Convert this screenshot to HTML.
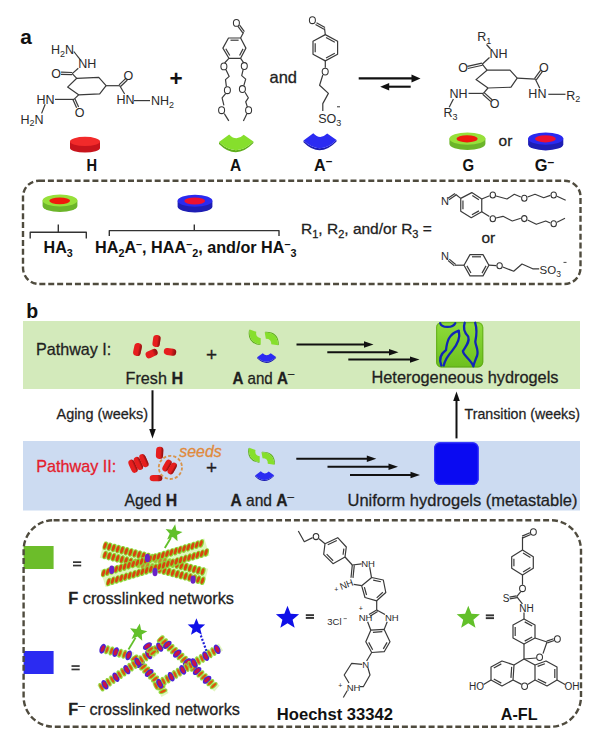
<!DOCTYPE html>
<html><head><meta charset="utf-8"><style>
html,body{margin:0;padding:0;background:#fff;}
svg{display:block;}
text{font-family:"Liberation Sans",sans-serif;}
</style></head><body>
<svg width="600" height="731" viewBox="0 0 600 731">
<text x="20.3" y="44.2" font-size="21" font-weight="bold" textLength="11.6" lengthAdjust="spacingAndGlyphs" fill="#111" >a</text>
<path d="M76.75 78.3 L98.75 77.4 L106.1 85.7 L99.7 93.9 L78.6 94.8 L67.6 87.1 Z" fill="none" stroke="#3a3a3a" stroke-width="1.2" stroke-linejoin="round"/>
<line x1="76.75" y1="78.3" x2="72.2" y2="73.6" stroke="#3a3a3a" stroke-width="1.2" />
<line x1="60.96" y1="74.3" x2="72.16" y2="74.7" stroke="#3a3a3a" stroke-width="1.2" />
<line x1="61.04" y1="72.1" x2="72.24" y2="72.5" stroke="#3a3a3a" stroke-width="1.2" />
<line x1="72.2" y1="73.6" x2="78.3" y2="68.3" stroke="#3a3a3a" stroke-width="1.2" />
<text x="87.3" y="68.08" font-size="12.5" text-anchor="middle" fill="#2a2a2a" >NH</text>
<line x1="73.8" y1="51.5" x2="80.2" y2="59.6" stroke="#3a3a3a" stroke-width="1.2" />
<text x="51" y="54" font-size="12.5" fill="#2a2a2a" >H<tspan font-size="9" dy="2.5">2</tspan><tspan dy="-2.5">N</tspan></text>
<text x="56" y="77.77" font-size="12.5" text-anchor="middle" fill="#2a2a2a" >O</text>
<line x1="106.1" y1="85.7" x2="119.8" y2="85.7" stroke="#3a3a3a" stroke-width="1.2" />
<line x1="120.56" y1="86.5" x2="127.36" y2="80" stroke="#3a3a3a" stroke-width="1.2" />
<line x1="119.04" y1="84.9" x2="125.84" y2="78.4" stroke="#3a3a3a" stroke-width="1.2" />
<text x="128.4" y="80.07" font-size="12.5" text-anchor="middle" fill="#2a2a2a" >O</text>
<line x1="119.8" y1="85.7" x2="124.6" y2="94" stroke="#3a3a3a" stroke-width="1.2" />
<text x="125.6" y="103.88" font-size="12.5" text-anchor="middle" fill="#2a2a2a" >HN</text>
<line x1="134" y1="100.6" x2="150" y2="100.6" stroke="#3a3a3a" stroke-width="1.2" />
<text x="151" y="105.3" font-size="12.5" fill="#2a2a2a" >NH<tspan font-size="9" dy="2.5">2</tspan></text>
<line x1="78.6" y1="94.8" x2="74" y2="99.4" stroke="#3a3a3a" stroke-width="1.2" />
<line x1="73" y1="99.85" x2="76.6" y2="107.85" stroke="#3a3a3a" stroke-width="1.2" />
<line x1="75" y1="98.95" x2="78.6" y2="106.95" stroke="#3a3a3a" stroke-width="1.2" />
<text x="79.5" y="116.77" font-size="12.5" text-anchor="middle" fill="#2a2a2a" >O</text>
<line x1="74" y1="99.4" x2="55" y2="99.4" stroke="#3a3a3a" stroke-width="1.2" />
<text x="45.6" y="103.88" font-size="12.5" text-anchor="middle" fill="#2a2a2a" >HN</text>
<line x1="45.2" y1="104.2" x2="41.6" y2="113.4" stroke="#3a3a3a" stroke-width="1.2" />
<text x="20.5" y="123.5" font-size="12.5" fill="#2a2a2a" >H<tspan font-size="9" dy="2.5">2</tspan><tspan dy="-2.5">N</tspan></text>
<text x="176" y="86" font-size="22.5" font-weight="bold" text-anchor="middle" fill="#111" >+</text>
<text x="269.5" y="83" font-size="16.5" textLength="27.5" lengthAdjust="spacingAndGlyphs" fill="#222" stroke="#222" stroke-width="0.28">and</text>
<path d="M70 141.4 L70 148 A15 4.6 0 0 0 100 148 L100 141.4 Z" fill="#c8141c"/>
<ellipse cx="85" cy="141.4" rx="15" ry="4.6" fill="#f22a2a"/>
<text x="91.8" y="171.2" font-size="16.5" font-weight="bold" text-anchor="middle" textLength="10.6" lengthAdjust="spacingAndGlyphs" fill="#111" >H</text>
<g transform="translate(236.2 141.5) rotate(0) scale(1.0)"><path d="M-17.2 0.6 Q0 17 17.2 0 L17.2 1.6 Q0 19.5 -17.2 2.4 Z" fill="#5fae1c"/><path d="M-17.2 0.6 L-7 -7 Q0 0.6 7.5 -6.8 L17.2 0 Q0 17 -17.2 0.6 Z" fill="#86df2c"/></g>
<text x="235.6" y="170.9" font-size="16.5" font-weight="bold" text-anchor="middle" textLength="11.2" lengthAdjust="spacingAndGlyphs" fill="#111" >A</text>
<g transform="translate(320.0 140.0) rotate(0) scale(0.96)"><path d="M-17.2 0.6 Q0 17 17.2 0 L17.2 1.6 Q0 19.5 -17.2 2.4 Z" fill="#1c1cb0"/><path d="M-17.2 0.6 L-7 -7 Q0 0.6 7.5 -6.8 L17.2 0 Q0 17 -17.2 0.6 Z" fill="#2b2bf2"/></g>
<text x="314" y="170.9" font-size="16.5" font-weight="bold" textLength="18.2" lengthAdjust="spacingAndGlyphs" fill="#111" >A<tspan font-size="12" dy="-5.5">–</tspan></text>
<line x1="358.7" y1="78.4" x2="413.5" y2="78.4" stroke="#111" stroke-width="2.1" />
<path d="M420.5 78.4 L411.5 74.4 L411.5 82.4 Z" fill="#111"/>
<line x1="388" y1="86.7" x2="410.7" y2="86.7" stroke="#111" stroke-width="2.1" />
<path d="M380.2 86.7 L389.2 82.9 L389.2 90.5 Z" fill="#111"/>
<path d="M487 70.2 L510 70.2 L517.2 78.2 L511 87.2 L488 88 L476 79.6 Z" fill="none" stroke="#3a3a3a" stroke-width="1.2" stroke-linejoin="round"/>
<line x1="487" y1="70.2" x2="482.2" y2="64.2" stroke="#3a3a3a" stroke-width="1.2" />
<line x1="467.84" y1="68.47" x2="482.44" y2="65.27" stroke="#3a3a3a" stroke-width="1.2" />
<line x1="467.36" y1="66.33" x2="481.96" y2="63.13" stroke="#3a3a3a" stroke-width="1.2" />
<text x="463" y="72.27" font-size="12.5" text-anchor="middle" fill="#2a2a2a" >O</text>
<line x1="482.2" y1="64.2" x2="489.5" y2="57.5" stroke="#3a3a3a" stroke-width="1.2" />
<text x="498.5" y="57.98" font-size="12.5" text-anchor="middle" fill="#2a2a2a" >NH</text>
<line x1="486.5" y1="44.5" x2="490.5" y2="49" stroke="#3a3a3a" stroke-width="1.2" />
<text x="477.2" y="41.3" font-size="12.5" fill="#2a2a2a" >R<tspan font-size="9" dy="2.5">1</tspan></text>
<line x1="517.2" y1="78.2" x2="535.4" y2="79.2" stroke="#3a3a3a" stroke-width="1.2" />
<line x1="536.29" y1="79.85" x2="542.29" y2="71.65" stroke="#3a3a3a" stroke-width="1.2" />
<line x1="534.51" y1="78.55" x2="540.51" y2="70.35" stroke="#3a3a3a" stroke-width="1.2" />
<text x="543.8" y="71.67" font-size="12.5" text-anchor="middle" fill="#2a2a2a" >O</text>
<line x1="535.4" y1="79.2" x2="539.8" y2="88.2" stroke="#3a3a3a" stroke-width="1.2" />
<text x="537.4" y="98.07" font-size="12.5" text-anchor="middle" fill="#2a2a2a" >HN</text>
<line x1="548.3" y1="94.3" x2="565.5" y2="94.3" stroke="#3a3a3a" stroke-width="1.2" />
<text x="566.2" y="99.6" font-size="12.5" fill="#2a2a2a" >R<tspan font-size="9" dy="2.5">2</tspan></text>
<line x1="488" y1="88" x2="483.4" y2="93.4" stroke="#3a3a3a" stroke-width="1.2" />
<line x1="482.66" y1="94.22" x2="490.86" y2="101.62" stroke="#3a3a3a" stroke-width="1.2" />
<line x1="484.14" y1="92.58" x2="492.34" y2="99.98" stroke="#3a3a3a" stroke-width="1.2" />
<text x="494.6" y="108.27" font-size="12.5" text-anchor="middle" fill="#2a2a2a" >O</text>
<line x1="483.4" y1="93.4" x2="468.5" y2="93.4" stroke="#3a3a3a" stroke-width="1.2" />
<text x="458.6" y="98.07" font-size="12.5" text-anchor="middle" fill="#2a2a2a" >NH</text>
<line x1="453.4" y1="99" x2="449.2" y2="107.2" stroke="#3a3a3a" stroke-width="1.2" />
<text x="443.5" y="117.2" font-size="12.5" fill="#2a2a2a" >R<tspan font-size="9" dy="2.5">3</tspan></text>
<path d="M449.4 138.6 L449.4 143.8 A18 6.2 0 0 0 485.4 143.8 L485.4 138.6 Z" fill="#6cb52a"/>
<ellipse cx="467.4" cy="138.6" rx="18" ry="6.2" fill="#97e03a"/>
<ellipse cx="467.1" cy="138.8" rx="10.6" ry="3.6" fill="#f01a0c"/>
<text x="505.5" y="145.6" font-size="15.5" text-anchor="middle" fill="#222" stroke="#222" stroke-width="0.28">or</text>
<path d="M528.1 138.6 L528.1 144.2 A17.6 6.2 0 0 0 563.3 144.2 L563.3 138.6 Z" fill="#1e1eb4"/>
<ellipse cx="545.7" cy="138.6" rx="17.6" ry="6.2" fill="#2a2af0"/>
<ellipse cx="545.4" cy="138.8" rx="10.4" ry="3.6" fill="#ee1030"/>
<text x="468.3" y="171.4" font-size="16.5" font-weight="bold" text-anchor="middle" textLength="11.6" lengthAdjust="spacingAndGlyphs" fill="#111" >G</text>
<text x="534.8" y="171.4" font-size="16.5" font-weight="bold" textLength="19.4" lengthAdjust="spacingAndGlyphs" fill="#111" >G<tspan font-size="12" dy="-5.5">–</tspan></text>
<path d="M228.5 38 L240.6 38 L245.9 48.1 L240.6 58.3 L228.9 58.3 L222.9 48.1 Z" fill="none" stroke="#3a3a3a" stroke-width="1.2" stroke-linejoin="round"/>
<line x1="230.5" y1="40.2" x2="238.6" y2="40.2" stroke="#3a3a3a" stroke-width="1.2" />
<line x1="243.03" y1="48.86" x2="239.57" y2="55.51" stroke="#3a3a3a" stroke-width="1.2" />
<line x1="229.78" y1="55.46" x2="225.81" y2="48.71" stroke="#3a3a3a" stroke-width="1.2" />
<line x1="240.6" y1="38" x2="243.6" y2="32.3" stroke="#3a3a3a" stroke-width="1.2" />
<line x1="242.8" y1="32.89" x2="238" y2="26.39" stroke="#3a3a3a" stroke-width="1.2" />
<line x1="244.4" y1="31.71" x2="239.6" y2="25.21" stroke="#3a3a3a" stroke-width="1.2" />
<ellipse cx="236.4" cy="22.9" rx="3" ry="3.4" fill="none" stroke="#333" stroke-width="1.05"/>
<line x1="228.9" y1="58.3" x2="224.6" y2="63" stroke="#3a3a3a" stroke-width="1.2" />
<ellipse cx="223.9" cy="66.4" rx="3" ry="3.4" fill="none" stroke="#333" stroke-width="1.05"/>
<path d="M226 69.8 L229.2 76.4 L225.5 79.6 L226.4 86.7" fill="none" stroke="#3a3a3a" stroke-width="1.2" stroke-linejoin="round"/>
<ellipse cx="227.4" cy="90.2" rx="3" ry="3.4" fill="none" stroke="#333" stroke-width="1.05"/>
<path d="M225.6 93.6 L222.1 97.8 L223.9 105.3" fill="none" stroke="#3a3a3a" stroke-width="1.2" stroke-linejoin="round"/>
<ellipse cx="221.6" cy="110.2" rx="3" ry="3.4" fill="none" stroke="#333" stroke-width="1.05"/>
<line x1="224.3" y1="113.6" x2="228.8" y2="120.9" stroke="#3a3a3a" stroke-width="1.2" />
<line x1="240.6" y1="58.3" x2="243.6" y2="62.6" stroke="#3a3a3a" stroke-width="1.2" />
<ellipse cx="244.3" cy="66" rx="3" ry="3.4" fill="none" stroke="#333" stroke-width="1.05"/>
<path d="M243.2 69.4 L241.7 75.6 L245.7 79.1 L243.9 85.3" fill="none" stroke="#3a3a3a" stroke-width="1.2" stroke-linejoin="round"/>
<ellipse cx="242.4" cy="89" rx="3" ry="3.4" fill="none" stroke="#333" stroke-width="1.05"/>
<path d="M245 92.3 L248.3 97.8 L245.7 101.8 L247.4 107.1" fill="none" stroke="#3a3a3a" stroke-width="1.2" stroke-linejoin="round"/>
<ellipse cx="248.6" cy="110.2" rx="3" ry="3.4" fill="none" stroke="#333" stroke-width="1.05"/>
<line x1="247" y1="113.6" x2="243.4" y2="120.9" stroke="#3a3a3a" stroke-width="1.2" />
<path d="M325.3 34.6 L337.6 41.2 L337.6 54.3 L325.3 60.9 L313 54.3 L313 41.2 Z" fill="none" stroke="#3a3a3a" stroke-width="1.2" stroke-linejoin="round"/>
<line x1="326.02" y1="37.48" x2="334.8" y2="42.19" stroke="#3a3a3a" stroke-width="1.2" />
<line x1="334.8" y1="53.31" x2="326.02" y2="58.02" stroke="#3a3a3a" stroke-width="1.2" />
<line x1="315.2" y1="52.3" x2="315.2" y2="43.2" stroke="#3a3a3a" stroke-width="1.2" />
<line x1="325.3" y1="34.6" x2="324.5" y2="28.4" stroke="#3a3a3a" stroke-width="1.2" />
<line x1="324.99" y1="27.53" x2="316.49" y2="22.73" stroke="#3a3a3a" stroke-width="1.2" />
<line x1="324.01" y1="29.27" x2="315.51" y2="24.47" stroke="#3a3a3a" stroke-width="1.2" />
<ellipse cx="312.4" cy="20.2" rx="3" ry="3.4" fill="none" stroke="#333" stroke-width="1.05"/>
<line x1="325.3" y1="60.9" x2="325.3" y2="67.8" stroke="#3a3a3a" stroke-width="1.2" />
<ellipse cx="325.2" cy="71.6" rx="3" ry="3.4" fill="none" stroke="#333" stroke-width="1.05"/>
<path d="M322.8 75 L319.6 85.2 L328.4 93.4 L322.8 103.6 L322.8 111" fill="none" stroke="#3a3a3a" stroke-width="1.2" stroke-linejoin="round"/>
<text x="318.2" y="123" font-size="12.5" fill="#2a2a2a" >SO<tspan font-size="9" dy="2.5">3</tspan></text>
<line x1="337" y1="106.8" x2="340" y2="106.8" stroke="#333" stroke-width="1.0" />
<defs><linearGradient id="pillg" x1="0" y1="0" x2="1" y2="0"><stop offset="0" stop-color="#000" stop-opacity="0"/><stop offset="0.6" stop-color="#000" stop-opacity="0"/><stop offset="1" stop-color="#400" stop-opacity="0.55"/></linearGradient><linearGradient id="gelg" x1="0" y1="0" x2="0" y2="1"><stop offset="0" stop-color="#8fdc3a"/><stop offset="1" stop-color="#6cc01e"/></linearGradient></defs>
<rect x="23" y="180.7" width="557.5" height="103.3" rx="16" fill="none" stroke="#4f4b3e" stroke-width="2.4" stroke-dasharray="6 2.9"/>
<path d="M42.6 200.6 L42.6 206 A17.4 6 0 0 0 77.4 206 L77.4 200.6 Z" fill="#6cb52a"/>
<ellipse cx="60" cy="200.6" rx="17.4" ry="6" fill="#97e03a"/>
<ellipse cx="59.7" cy="200.8" rx="10.4" ry="3.4" fill="#f01a0c"/>
<path d="M177.6 200.8 L177.6 206.4 A17.4 6 0 0 0 212.4 206.4 L212.4 200.8 Z" fill="#1e1eb4"/>
<ellipse cx="195" cy="200.8" rx="17.4" ry="6" fill="#2a2af0"/>
<ellipse cx="194.7" cy="201" rx="10.4" ry="3.4" fill="#ee1030"/>
<path d="M30.2 238.5 L30.2 232.2 L86.3 232.2 L86.3 238.5" fill="none" stroke="#333" stroke-width="1.4" stroke-linejoin="round"/>
<line x1="58.3" y1="232.2" x2="58.3" y2="224.5" stroke="#333" stroke-width="1.4" />
<path d="M109.3 236 L109.3 230.6 L279 230.6 L279 236" fill="none" stroke="#333" stroke-width="1.4" stroke-linejoin="round"/>
<line x1="194.3" y1="230.6" x2="194.3" y2="224.4" stroke="#333" stroke-width="1.4" />
<text x="43.6" y="253.4" font-size="16.5" font-weight="bold" textLength="29.2" lengthAdjust="spacingAndGlyphs" fill="#111" >HA<tspan font-size="11" dy="3.5">3</tspan></text>
<text x="95" y="253.4" font-size="16.5" font-weight="bold" textLength="201.5" lengthAdjust="spacingAndGlyphs" fill="#111" >HA<tspan font-size="11" dy="3.5">2</tspan><tspan dy="-3.5">A</tspan><tspan font-size="11" dy="-5">–</tspan><tspan dy="5">, HAA</tspan><tspan font-size="11" dy="-5">–</tspan><tspan font-size="11" dy="8.5">2</tspan><tspan dy="-3.5">, and/or HA</tspan><tspan font-size="11" dy="-5">–</tspan><tspan font-size="11" dy="8.5">3</tspan></text>
<text x="301" y="234.2" font-size="15.5" fill="#222" stroke="#222" stroke-width="0.28">R<tspan font-size="11" dy="3.5">1</tspan><tspan dy="-3.5">, R</tspan><tspan font-size="11" dy="3.5">2</tspan><tspan dy="-3.5">, and/or R</tspan><tspan font-size="11" dy="3.5">3</tspan><tspan dy="-3.5"> =</tspan></text>
<text x="488.3" y="242.8" font-size="15.5" text-anchor="middle" fill="#222" stroke="#222" stroke-width="0.28">or</text>
<text x="445" y="205.24" font-size="11" text-anchor="middle" fill="#2a2a2a" >N</text>
<line x1="449" y1="199.75" x2="456" y2="195.05" stroke="#3a3a3a" stroke-width="1.2" />
<line x1="448" y1="198.25" x2="455" y2="193.55" stroke="#3a3a3a" stroke-width="1.2" />
<line x1="455.5" y1="194.3" x2="460.75" y2="198.4" stroke="#3a3a3a" stroke-width="1.2" />
<path d="M460.75 198.4 L471.8 192.6 L481.75 199 L481.75 211.8 L471.25 217.7 L460.75 211.25 Z" fill="none" stroke="#3a3a3a" stroke-width="1.2" stroke-linejoin="round"/>
<line x1="472.29" y1="195.53" x2="478.88" y2="199.77" stroke="#3a3a3a" stroke-width="1.2" />
<line x1="478.93" y1="210.86" x2="471.92" y2="214.8" stroke="#3a3a3a" stroke-width="1.2" />
<line x1="462.95" y1="209.25" x2="462.95" y2="200.4" stroke="#3a3a3a" stroke-width="1.2" />
<line x1="481.75" y1="199" x2="489.6" y2="195.8" stroke="#3a3a3a" stroke-width="1.2" />
<ellipse cx="492.8" cy="194.9" rx="2.7" ry="3" fill="none" stroke="#333" stroke-width="1.05"/>
<path d="M496 196 L507 199 L514.3 194.3 L520.8 197" fill="none" stroke="#3a3a3a" stroke-width="1.2" stroke-linejoin="round"/>
<ellipse cx="524.3" cy="198.3" rx="2.7" ry="3" fill="none" stroke="#333" stroke-width="1.05"/>
<path d="M527.6 197 L535 194.3 L543.7 197.7 L550.3 195.4" fill="none" stroke="#3a3a3a" stroke-width="1.2" stroke-linejoin="round"/>
<ellipse cx="553.7" cy="195" rx="2.7" ry="3" fill="none" stroke="#333" stroke-width="1.05"/>
<line x1="557" y1="196.2" x2="565.7" y2="200.3" stroke="#3a3a3a" stroke-width="1.2" />
<line x1="481.75" y1="211.8" x2="489.4" y2="216.5" stroke="#3a3a3a" stroke-width="1.2" />
<ellipse cx="492.8" cy="218.8" rx="2.7" ry="3" fill="none" stroke="#333" stroke-width="1.05"/>
<path d="M496 218 L503 216.3 L512.3 221 L520.8 218.3" fill="none" stroke="#3a3a3a" stroke-width="1.2" stroke-linejoin="round"/>
<ellipse cx="524.3" cy="218.6" rx="2.7" ry="3" fill="none" stroke="#333" stroke-width="1.05"/>
<path d="M527.6 220 L536.3 224.3 L545.7 221 L550.3 223" fill="none" stroke="#3a3a3a" stroke-width="1.2" stroke-linejoin="round"/>
<ellipse cx="553.7" cy="223.8" rx="2.7" ry="3" fill="none" stroke="#333" stroke-width="1.05"/>
<line x1="557" y1="222.3" x2="565" y2="218.3" stroke="#3a3a3a" stroke-width="1.2" />
<text x="445" y="259.64" font-size="11" text-anchor="middle" fill="#2a2a2a" >N</text>
<line x1="448.11" y1="260.48" x2="454.41" y2="265.88" stroke="#3a3a3a" stroke-width="1.2" />
<line x1="449.29" y1="259.12" x2="455.59" y2="264.52" stroke="#3a3a3a" stroke-width="1.2" />
<line x1="455" y1="265.2" x2="464" y2="265.2" stroke="#3a3a3a" stroke-width="1.2" />
<path d="M464 265.2 L470 254.6 L483 254.6 L488.9 265.2 L483 275.9 L470 275.9 Z" fill="none" stroke="#3a3a3a" stroke-width="1.2" stroke-linejoin="round"/>
<line x1="472" y1="256.8" x2="481" y2="256.8" stroke="#3a3a3a" stroke-width="1.2" />
<line x1="486.01" y1="265.89" x2="482.04" y2="273.09" stroke="#3a3a3a" stroke-width="1.2" />
<line x1="470.94" y1="273.08" x2="466.9" y2="265.87" stroke="#3a3a3a" stroke-width="1.2" />
<line x1="488.9" y1="265.2" x2="496.3" y2="265.6" stroke="#3a3a3a" stroke-width="1.2" />
<ellipse cx="499.6" cy="265.7" rx="2.7" ry="3" fill="none" stroke="#333" stroke-width="1.05"/>
<path d="M502.8 267 L513.7 271.2 L522 264 L532.7 268.8 L539.2 268.8" fill="none" stroke="#3a3a3a" stroke-width="1.2" stroke-linejoin="round"/>
<text x="539.6" y="274.4" font-size="11.5" fill="#2a2a2a" >SO<tspan font-size="8.5" dy="2.5">3</tspan></text>
<line x1="563.5" y1="262.4" x2="566.5" y2="262.4" stroke="#333" stroke-width="0.9" />
<text x="26.2" y="318.2" font-size="19.5" font-weight="bold" fill="#111" >b</text>
<rect x="23" y="321" width="557" height="68" fill="#d3eabb"/>
<rect x="23" y="441" width="557" height="69.5" fill="#ccdbf1"/>
<text x="36" y="355.2" font-size="16.2" textLength="75.2" lengthAdjust="spacingAndGlyphs" fill="#1f1f1f" stroke="#1f1f1f" stroke-width="0.28">Pathway I:</text>
<text x="36.2" y="471.6" font-size="16.2" textLength="80" lengthAdjust="spacingAndGlyphs" fill="#e4202c" stroke="#e4202c" stroke-width="0.28">Pathway II:</text>
<g transform="translate(137.5 349.5) rotate(12)"><rect x="-3.8" y="-6.5" width="7.6" height="13" rx="3.61" ry="3.58" fill="#e61e1e"/><rect x="-3.8" y="-6.5" width="7.6" height="13" rx="3.61" ry="3.58" fill="url(#pillg)"/></g>
<g transform="translate(156.5 341) rotate(8)"><rect x="-3.7" y="-6" width="7.4" height="12" rx="3.52" ry="3.3" fill="#e61e1e"/><rect x="-3.7" y="-6" width="7.4" height="12" rx="3.52" ry="3.3" fill="url(#pillg)"/></g>
<g transform="translate(151.6 353.6) rotate(-25)"><rect x="-6.2" y="-3.5" width="12.4" height="7" rx="3.41" ry="3.32" fill="#e61e1e"/><rect x="-6.2" y="-3.5" width="12.4" height="7" rx="3.41" ry="3.32" fill="url(#pillg)"/></g>
<g transform="translate(170 351.8) rotate(8)"><rect x="-6.2" y="-3.5" width="12.4" height="7" rx="3.41" ry="3.32" fill="#e61e1e"/><rect x="-6.2" y="-3.5" width="12.4" height="7" rx="3.41" ry="3.32" fill="url(#pillg)"/></g>
<text x="125.6" y="383.5" font-size="16.2" textLength="57.5" lengthAdjust="spacingAndGlyphs" fill="#1f1f1f" stroke="#1f1f1f" stroke-width="0.28">Fresh <tspan font-weight="bold">H</tspan></text>
<text x="211.5" y="361.2" font-size="19" text-anchor="middle" fill="#1f1f1f" stroke="#1f1f1f" stroke-width="0.28">+</text>
<g transform="translate(255.4 337.0) rotate(55) scale(0.54)"><path d="M-17.2 0.6 Q0 17 17.2 0 L17.2 1.6 Q0 19.5 -17.2 2.4 Z" fill="#5fae1c"/><path d="M-17.2 0.6 L-7 -7 Q0 0.6 7.5 -6.8 L17.2 0 Q0 17 -17.2 0.6 Z" fill="#86df2c"/></g>
<g transform="translate(271.3 339.0) rotate(-135) scale(0.54)"><path d="M-17.2 0.6 Q0 17 17.2 0 L17.2 1.6 Q0 19.5 -17.2 2.4 Z" fill="#5fae1c"/><path d="M-17.2 0.6 L-7 -7 Q0 0.6 7.5 -6.8 L17.2 0 Q0 17 -17.2 0.6 Z" fill="#86df2c"/></g>
<g transform="translate(266.6 357.0) rotate(0) scale(0.55)"><path d="M-17.2 0.6 Q0 17 17.2 0 L17.2 1.6 Q0 19.5 -17.2 2.4 Z" fill="#1c1cb0"/><path d="M-17.2 0.6 L-7 -7 Q0 0.6 7.5 -6.8 L17.2 0 Q0 17 -17.2 0.6 Z" fill="#2b2bf2"/></g>
<text x="232.4" y="383.5" font-size="16.2" textLength="61.8" lengthAdjust="spacingAndGlyphs" fill="#1f1f1f" stroke="#1f1f1f" stroke-width="0.28"><tspan font-weight="bold">A</tspan> and <tspan font-weight="bold">A</tspan><tspan font-size="12" dy="-5.5">–</tspan></text>
<line x1="296.5" y1="344.5" x2="365" y2="344.5" stroke="#111" stroke-width="2.0" />
<path d="M373.5 344.5 L364 341.3 L364 347.7 Z" fill="#111"/>
<line x1="327.3" y1="352.2" x2="390" y2="352.2" stroke="#111" stroke-width="2.0" />
<path d="M398.5 352.2 L389 349 L389 355.4 Z" fill="#111"/>
<line x1="348.3" y1="359.6" x2="411" y2="359.6" stroke="#111" stroke-width="2.0" />
<path d="M419.5 359.6 L410 356.4 L410 362.8 Z" fill="#111"/>
<rect x="436" y="322" width="47.3" height="45.5" rx="5.5" fill="url(#gelg)"/>
<rect x="436.6" y="322.6" width="46.1" height="44.3" rx="5" fill="none" stroke="#5aa018" stroke-width="1.2" opacity="0.6"/>
<path d="M440.2 323.2 C441.5 327.8 452.5 328.6 455.3 323.2 M441.3 365.5 C439.0 360 440.0 354.5 446.0 350.0 C447.0 342 448.5 334 458.8 330.6 C460.5 338 456.5 346 451.8 351.2 C447.5 356 445.0 360 443.7 365.5 M464.7 322.8 C462.8 328 464.0 332 468.2 336.5 C470.0 342 466.0 346 462.9 351.2 C463.5 356 470.5 359 473.4 366.3 M475.2 322.8 C477.5 330 476.5 336 475.3 341.8 C476.0 347 479.0 351 477.0 356.0 C475.5 360 474.0 363 473.4 366.3" fill="none" stroke="#1226b6" stroke-width="2.3" stroke-linecap="round" stroke-linejoin="round"/>
<text x="371.5" y="383.2" font-size="16.3" textLength="187" lengthAdjust="spacingAndGlyphs" fill="#1f1f1f" stroke="#1f1f1f" stroke-width="0.28">Heterogeneous hydrogels</text>
<line x1="152.5" y1="390.3" x2="152.5" y2="430.1" stroke="#111" stroke-width="2.0" />
<path d="M152.5 438.6 L149.2 429.1 L155.8 429.1 Z" fill="#111"/>
<text x="56.5" y="418.7" font-size="14.6" textLength="91.5" lengthAdjust="spacingAndGlyphs" fill="#1f1f1f" stroke="#1f1f1f" stroke-width="0.28">Aging (weeks)</text>
<line x1="456.5" y1="438.4" x2="456.5" y2="400.1" stroke="#111" stroke-width="2.0" />
<path d="M456.5 391.6 L453.2 401.1 L459.8 401.1 Z" fill="#111"/>
<text x="464.5" y="418.7" font-size="14.6" textLength="115.5" lengthAdjust="spacingAndGlyphs" fill="#1f1f1f" stroke="#1f1f1f" stroke-width="0.28">Transition (weeks)</text>
<g transform="translate(133 466.2) rotate(-24)"><rect x="-3.2" y="-6.9" width="6.4" height="13.8" rx="3.04" ry="3.8" fill="#e61e1e"/><rect x="-3.2" y="-6.9" width="6.4" height="13.8" rx="3.04" ry="3.8" fill="url(#pillg)"/></g>
<g transform="translate(138.4 463.4) rotate(-24)"><rect x="-3.2" y="-6.9" width="6.4" height="13.8" rx="3.04" ry="3.8" fill="#e61e1e"/><rect x="-3.2" y="-6.9" width="6.4" height="13.8" rx="3.04" ry="3.8" fill="url(#pillg)"/></g>
<g transform="translate(143.9 460.6) rotate(-24)"><rect x="-3.2" y="-6.9" width="6.4" height="13.8" rx="3.04" ry="3.8" fill="#e61e1e"/><rect x="-3.2" y="-6.9" width="6.4" height="13.8" rx="3.04" ry="3.8" fill="url(#pillg)"/></g>
<g transform="translate(159.6 452.8) rotate(3)"><rect x="-3.6" y="-6.1" width="7.2" height="12.2" rx="3.42" ry="3.35" fill="#e61e1e"/><rect x="-3.6" y="-6.1" width="7.2" height="12.2" rx="3.42" ry="3.35" fill="url(#pillg)"/></g>
<g transform="translate(167 465.6) rotate(30)"><rect x="-3.1" y="-6.3" width="6.2" height="12.6" rx="2.94" ry="3.47" fill="#e61e1e"/><rect x="-3.1" y="-6.3" width="6.2" height="12.6" rx="2.94" ry="3.47" fill="url(#pillg)"/></g>
<g transform="translate(172.2 468.4) rotate(30)"><rect x="-3.1" y="-6.3" width="6.2" height="12.6" rx="2.94" ry="3.47" fill="#e61e1e"/><rect x="-3.1" y="-6.3" width="6.2" height="12.6" rx="2.94" ry="3.47" fill="url(#pillg)"/></g>
<g transform="translate(156 478.2) rotate(0)"><rect x="-6.3" y="-3.1" width="12.6" height="6.2" rx="3.47" ry="2.94" fill="#e61e1e"/><rect x="-6.3" y="-3.1" width="12.6" height="6.2" rx="3.47" ry="2.94" fill="url(#pillg)"/></g>
<circle cx="170.4" cy="467.4" r="11.6" fill="none" stroke="#d8944c" stroke-width="1.8" stroke-dasharray="3.2 2.0"/>
<text x="179.3" y="457" font-size="15.8" font-style="italic" textLength="42.4" lengthAdjust="spacingAndGlyphs" fill="#e08a3c" stroke="#e08a3c" stroke-width="0.3">seeds</text>
<text x="211.5" y="473.8" font-size="19" text-anchor="middle" fill="#1f1f1f" stroke="#1f1f1f" stroke-width="0.28">+</text>
<g transform="translate(254.6 455.0) rotate(55) scale(0.52)"><path d="M-17.2 0.6 Q0 17 17.2 0 L17.2 1.6 Q0 19.5 -17.2 2.4 Z" fill="#5fae1c"/><path d="M-17.2 0.6 L-7 -7 Q0 0.6 7.5 -6.8 L17.2 0 Q0 17 -17.2 0.6 Z" fill="#86df2c"/></g>
<g transform="translate(267.8 458.6) rotate(-135) scale(0.52)"><path d="M-17.2 0.6 Q0 17 17.2 0 L17.2 1.6 Q0 19.5 -17.2 2.4 Z" fill="#5fae1c"/><path d="M-17.2 0.6 L-7 -7 Q0 0.6 7.5 -6.8 L17.2 0 Q0 17 -17.2 0.6 Z" fill="#86df2c"/></g>
<g transform="translate(264.6 475.2) rotate(0) scale(0.55)"><path d="M-17.2 0.6 Q0 17 17.2 0 L17.2 1.6 Q0 19.5 -17.2 2.4 Z" fill="#1c1cb0"/><path d="M-17.2 0.6 L-7 -7 Q0 0.6 7.5 -6.8 L17.2 0 Q0 17 -17.2 0.6 Z" fill="#2b2bf2"/></g>
<text x="124.4" y="506" font-size="16.2" textLength="52.8" lengthAdjust="spacingAndGlyphs" fill="#1f1f1f" stroke="#1f1f1f" stroke-width="0.28">Aged <tspan font-weight="bold">H</tspan></text>
<text x="230.4" y="506" font-size="16.2" textLength="63.6" lengthAdjust="spacingAndGlyphs" fill="#1f1f1f" stroke="#1f1f1f" stroke-width="0.28"><tspan font-weight="bold">A</tspan> and <tspan font-weight="bold">A</tspan><tspan font-size="12" dy="-5.5">–</tspan></text>
<line x1="296.3" y1="458.8" x2="367.8" y2="458.8" stroke="#111" stroke-width="2.0" />
<path d="M376.3 458.8 L366.8 455.6 L366.8 462 Z" fill="#111"/>
<line x1="327.5" y1="466.8" x2="389.5" y2="466.8" stroke="#111" stroke-width="2.0" />
<path d="M398 466.8 L388.5 463.6 L388.5 470 Z" fill="#111"/>
<line x1="350" y1="475" x2="411.5" y2="475" stroke="#111" stroke-width="2.0" />
<path d="M420 475 L410.5 471.8 L410.5 478.2 Z" fill="#111"/>
<rect x="434" y="442.3" width="44.7" height="42.7" rx="5.8" fill="#0a0af2"/>
<rect x="434.6" y="442.9" width="43.5" height="41.5" rx="5.3" fill="none" stroke="#3a3aff" stroke-width="1.2" opacity="0.7"/>
<text x="347.5" y="505.6" font-size="16.4" textLength="230" lengthAdjust="spacingAndGlyphs" fill="#1f1f1f" stroke="#1f1f1f" stroke-width="0.28">Uniform hydrogels (metastable)</text>
<rect x="23.6" y="546" width="30" height="23" fill="#6cbd2a"/>
<rect x="23.6" y="651" width="30" height="23" fill="#2b2bf2"/>
<rect x="23.6" y="520.2" width="557.4" height="206.5" rx="30" fill="none" stroke="#4f4b3e" stroke-width="2.4" stroke-dasharray="6 2.9"/>
<rect x="73.0" y="561.3" width="8.2" height="1.7" fill="#333"/><rect x="73.0" y="564.70" width="8.2" height="1.7" fill="#333"/>
<rect x="71.5" y="665.2" width="8.2" height="1.7" fill="#333"/><rect x="71.5" y="668.60" width="8.2" height="1.7" fill="#333"/>
<text x="68.3" y="604.4" font-size="16.3" textLength="165.7" lengthAdjust="spacingAndGlyphs" fill="#1f1f1f" stroke="#1f1f1f" stroke-width="0.28"><tspan font-weight="bold">F</tspan> crosslinked networks</text>
<text x="68.3" y="715" font-size="16.3" textLength="171.7" lengthAdjust="spacingAndGlyphs" fill="#1f1f1f" stroke="#1f1f1f" stroke-width="0.28"><tspan font-weight="bold">F</tspan><tspan font-size="12" dy="-5.5">–</tspan><tspan dy="5.5"> crosslinked networks</tspan></text>
<line x1="102" y1="549.5" x2="206" y2="577" stroke="#b4ea62" stroke-width="17" opacity="0.4"/>
<g transform="translate(105.27 545.71) rotate(18)"><ellipse rx="2.4" ry="4.4" fill="#8ad832"/><ellipse cx="-0.3" rx="1.5" ry="3.4" fill="#d8460f"/></g>
<g transform="translate(109.52 546.83) rotate(18)"><ellipse rx="2.4" ry="4.4" fill="#8ad832"/><ellipse cx="-0.3" rx="1.5" ry="3.4" fill="#d8460f"/></g>
<g transform="translate(113.76 547.96) rotate(18)"><ellipse rx="2.4" ry="4.4" fill="#8ad832"/><ellipse cx="-0.3" rx="1.5" ry="3.4" fill="#d8460f"/></g>
<g transform="translate(118.01 549.08) rotate(18)"><ellipse rx="2.4" ry="4.4" fill="#8ad832"/><ellipse cx="-0.3" rx="1.5" ry="3.4" fill="#d8460f"/></g>
<g transform="translate(122.25 550.2) rotate(18)"><ellipse rx="2.4" ry="4.4" fill="#8ad832"/><ellipse cx="-0.3" rx="1.5" ry="3.4" fill="#d8460f"/></g>
<g transform="translate(126.5 551.32) rotate(18)"><ellipse rx="2.4" ry="4.4" fill="#8ad832"/><ellipse cx="-0.3" rx="1.5" ry="3.4" fill="#d8460f"/></g>
<g transform="translate(130.74 552.45) rotate(18)"><ellipse rx="2.4" ry="4.4" fill="#8ad832"/><ellipse cx="-0.3" rx="1.5" ry="3.4" fill="#d8460f"/></g>
<g transform="translate(134.99 553.57) rotate(18)"><ellipse rx="2.4" ry="4.4" fill="#8ad832"/><ellipse cx="-0.3" rx="1.5" ry="3.4" fill="#d8460f"/></g>
<g transform="translate(139.23 554.69) rotate(18)"><ellipse rx="2.4" ry="4.4" fill="#8ad832"/><ellipse cx="-0.3" rx="1.5" ry="3.4" fill="#d8460f"/></g>
<g transform="translate(143.48 555.81) rotate(18)"><ellipse rx="2.4" ry="4.4" fill="#8ad832"/><ellipse cx="-0.3" rx="1.5" ry="3.4" fill="#d8460f"/></g>
<g transform="translate(147.72 556.94) rotate(18)"><ellipse rx="2.4" ry="4.4" fill="#8ad832"/><ellipse cx="-0.3" rx="1.5" ry="3.4" fill="#d8460f"/></g>
<g transform="translate(151.97 558.06) rotate(18)"><ellipse rx="2.4" ry="4.4" fill="#8ad832"/><ellipse cx="-0.3" rx="1.5" ry="3.4" fill="#d8460f"/></g>
<g transform="translate(156.21 559.18) rotate(18)"><ellipse rx="2.4" ry="4.4" fill="#8ad832"/><ellipse cx="-0.3" rx="1.5" ry="3.4" fill="#d8460f"/></g>
<g transform="translate(160.46 560.3) rotate(18)"><ellipse rx="2.4" ry="4.4" fill="#8ad832"/><ellipse cx="-0.3" rx="1.5" ry="3.4" fill="#d8460f"/></g>
<g transform="translate(164.7 561.43) rotate(18)"><ellipse rx="2.4" ry="4.4" fill="#8ad832"/><ellipse cx="-0.3" rx="1.5" ry="3.4" fill="#d8460f"/></g>
<g transform="translate(168.95 562.55) rotate(18)"><ellipse rx="2.4" ry="4.4" fill="#8ad832"/><ellipse cx="-0.3" rx="1.5" ry="3.4" fill="#d8460f"/></g>
<g transform="translate(173.19 563.67) rotate(18)"><ellipse rx="2.4" ry="4.4" fill="#8ad832"/><ellipse cx="-0.3" rx="1.5" ry="3.4" fill="#d8460f"/></g>
<g transform="translate(177.44 564.79) rotate(18)"><ellipse rx="2.4" ry="4.4" fill="#8ad832"/><ellipse cx="-0.3" rx="1.5" ry="3.4" fill="#d8460f"/></g>
<g transform="translate(181.68 565.91) rotate(18)"><ellipse rx="2.4" ry="4.4" fill="#8ad832"/><ellipse cx="-0.3" rx="1.5" ry="3.4" fill="#d8460f"/></g>
<g transform="translate(185.93 567.04) rotate(18)"><ellipse rx="2.4" ry="4.4" fill="#8ad832"/><ellipse cx="-0.3" rx="1.5" ry="3.4" fill="#d8460f"/></g>
<g transform="translate(190.17 568.16) rotate(18)"><ellipse rx="2.4" ry="4.4" fill="#8ad832"/><ellipse cx="-0.3" rx="1.5" ry="3.4" fill="#d8460f"/></g>
<g transform="translate(194.42 569.28) rotate(18)"><ellipse rx="2.4" ry="4.4" fill="#8ad832"/><ellipse cx="-0.3" rx="1.5" ry="3.4" fill="#d8460f"/></g>
<g transform="translate(198.66 570.4) rotate(18)"><ellipse rx="2.4" ry="4.4" fill="#8ad832"/><ellipse cx="-0.3" rx="1.5" ry="3.4" fill="#d8460f"/></g>
<g transform="translate(202.91 571.53) rotate(18)"><ellipse rx="2.4" ry="4.4" fill="#8ad832"/><ellipse cx="-0.3" rx="1.5" ry="3.4" fill="#d8460f"/></g>
<g transform="translate(105.09 554.97) rotate(18)"><ellipse rx="2.4" ry="4.4" fill="#8ad832"/><ellipse cx="-0.3" rx="1.5" ry="3.4" fill="#d8460f"/></g>
<g transform="translate(109.34 556.1) rotate(18)"><ellipse rx="2.4" ry="4.4" fill="#8ad832"/><ellipse cx="-0.3" rx="1.5" ry="3.4" fill="#d8460f"/></g>
<g transform="translate(113.58 557.22) rotate(18)"><ellipse rx="2.4" ry="4.4" fill="#8ad832"/><ellipse cx="-0.3" rx="1.5" ry="3.4" fill="#d8460f"/></g>
<g transform="translate(117.83 558.34) rotate(18)"><ellipse rx="2.4" ry="4.4" fill="#8ad832"/><ellipse cx="-0.3" rx="1.5" ry="3.4" fill="#d8460f"/></g>
<g transform="translate(122.07 559.46) rotate(18)"><ellipse rx="2.4" ry="4.4" fill="#8ad832"/><ellipse cx="-0.3" rx="1.5" ry="3.4" fill="#d8460f"/></g>
<g transform="translate(126.32 560.59) rotate(18)"><ellipse rx="2.4" ry="4.4" fill="#8ad832"/><ellipse cx="-0.3" rx="1.5" ry="3.4" fill="#d8460f"/></g>
<g transform="translate(130.56 561.71) rotate(18)"><ellipse rx="2.4" ry="4.4" fill="#8ad832"/><ellipse cx="-0.3" rx="1.5" ry="3.4" fill="#d8460f"/></g>
<g transform="translate(134.81 562.83) rotate(18)"><ellipse rx="2.4" ry="4.4" fill="#8ad832"/><ellipse cx="-0.3" rx="1.5" ry="3.4" fill="#d8460f"/></g>
<g transform="translate(139.05 563.95) rotate(18)"><ellipse rx="2.4" ry="4.4" fill="#8ad832"/><ellipse cx="-0.3" rx="1.5" ry="3.4" fill="#d8460f"/></g>
<g transform="translate(143.3 565.07) rotate(18)"><ellipse rx="2.4" ry="4.4" fill="#8ad832"/><ellipse cx="-0.3" rx="1.5" ry="3.4" fill="#d8460f"/></g>
<g transform="translate(147.54 566.2) rotate(18)"><ellipse rx="2.4" ry="4.4" fill="#8ad832"/><ellipse cx="-0.3" rx="1.5" ry="3.4" fill="#d8460f"/></g>
<g transform="translate(151.79 567.32) rotate(18)"><ellipse rx="2.4" ry="4.4" fill="#8ad832"/><ellipse cx="-0.3" rx="1.5" ry="3.4" fill="#d8460f"/></g>
<g transform="translate(156.03 568.44) rotate(18)"><ellipse rx="2.4" ry="4.4" fill="#8ad832"/><ellipse cx="-0.3" rx="1.5" ry="3.4" fill="#d8460f"/></g>
<g transform="translate(160.28 569.56) rotate(18)"><ellipse rx="2.4" ry="4.4" fill="#8ad832"/><ellipse cx="-0.3" rx="1.5" ry="3.4" fill="#d8460f"/></g>
<g transform="translate(164.52 570.69) rotate(18)"><ellipse rx="2.4" ry="4.4" fill="#8ad832"/><ellipse cx="-0.3" rx="1.5" ry="3.4" fill="#d8460f"/></g>
<g transform="translate(168.77 571.81) rotate(18)"><ellipse rx="2.4" ry="4.4" fill="#8ad832"/><ellipse cx="-0.3" rx="1.5" ry="3.4" fill="#d8460f"/></g>
<g transform="translate(173.01 572.93) rotate(18)"><ellipse rx="2.4" ry="4.4" fill="#8ad832"/><ellipse cx="-0.3" rx="1.5" ry="3.4" fill="#d8460f"/></g>
<g transform="translate(177.26 574.05) rotate(18)"><ellipse rx="2.4" ry="4.4" fill="#8ad832"/><ellipse cx="-0.3" rx="1.5" ry="3.4" fill="#d8460f"/></g>
<g transform="translate(181.5 575.18) rotate(18)"><ellipse rx="2.4" ry="4.4" fill="#8ad832"/><ellipse cx="-0.3" rx="1.5" ry="3.4" fill="#d8460f"/></g>
<g transform="translate(185.75 576.3) rotate(18)"><ellipse rx="2.4" ry="4.4" fill="#8ad832"/><ellipse cx="-0.3" rx="1.5" ry="3.4" fill="#d8460f"/></g>
<g transform="translate(189.99 577.42) rotate(18)"><ellipse rx="2.4" ry="4.4" fill="#8ad832"/><ellipse cx="-0.3" rx="1.5" ry="3.4" fill="#d8460f"/></g>
<g transform="translate(194.24 578.54) rotate(18)"><ellipse rx="2.4" ry="4.4" fill="#8ad832"/><ellipse cx="-0.3" rx="1.5" ry="3.4" fill="#d8460f"/></g>
<g transform="translate(198.48 579.67) rotate(18)"><ellipse rx="2.4" ry="4.4" fill="#8ad832"/><ellipse cx="-0.3" rx="1.5" ry="3.4" fill="#d8460f"/></g>
<g transform="translate(202.73 580.79) rotate(18)"><ellipse rx="2.4" ry="4.4" fill="#8ad832"/><ellipse cx="-0.3" rx="1.5" ry="3.4" fill="#d8460f"/></g>
<line x1="103" y1="578.5" x2="207" y2="547" stroke="#b4ea62" stroke-width="18" opacity="0.4"/>
<g transform="translate(103.67 573.07) rotate(18)"><ellipse rx="2.4" ry="4.4" fill="#8ad832"/><ellipse cx="-0.3" rx="1.5" ry="3.4" fill="#d8460f"/></g>
<g transform="translate(107.92 571.79) rotate(18)"><ellipse rx="2.4" ry="4.4" fill="#8ad832"/><ellipse cx="-0.3" rx="1.5" ry="3.4" fill="#d8460f"/></g>
<g transform="translate(112.16 570.5) rotate(18)"><ellipse rx="2.4" ry="4.4" fill="#8ad832"/><ellipse cx="-0.3" rx="1.5" ry="3.4" fill="#d8460f"/></g>
<g transform="translate(116.41 569.21) rotate(18)"><ellipse rx="2.4" ry="4.4" fill="#8ad832"/><ellipse cx="-0.3" rx="1.5" ry="3.4" fill="#d8460f"/></g>
<g transform="translate(120.65 567.93) rotate(18)"><ellipse rx="2.4" ry="4.4" fill="#8ad832"/><ellipse cx="-0.3" rx="1.5" ry="3.4" fill="#d8460f"/></g>
<g transform="translate(124.9 566.64) rotate(18)"><ellipse rx="2.4" ry="4.4" fill="#8ad832"/><ellipse cx="-0.3" rx="1.5" ry="3.4" fill="#d8460f"/></g>
<g transform="translate(129.14 565.36) rotate(18)"><ellipse rx="2.4" ry="4.4" fill="#8ad832"/><ellipse cx="-0.3" rx="1.5" ry="3.4" fill="#d8460f"/></g>
<g transform="translate(133.39 564.07) rotate(18)"><ellipse rx="2.4" ry="4.4" fill="#8ad832"/><ellipse cx="-0.3" rx="1.5" ry="3.4" fill="#d8460f"/></g>
<g transform="translate(137.63 562.79) rotate(18)"><ellipse rx="2.4" ry="4.4" fill="#8ad832"/><ellipse cx="-0.3" rx="1.5" ry="3.4" fill="#d8460f"/></g>
<g transform="translate(141.88 561.5) rotate(18)"><ellipse rx="2.4" ry="4.4" fill="#8ad832"/><ellipse cx="-0.3" rx="1.5" ry="3.4" fill="#d8460f"/></g>
<g transform="translate(146.12 560.21) rotate(18)"><ellipse rx="2.4" ry="4.4" fill="#8ad832"/><ellipse cx="-0.3" rx="1.5" ry="3.4" fill="#d8460f"/></g>
<g transform="translate(150.37 558.93) rotate(18)"><ellipse rx="2.4" ry="4.4" fill="#8ad832"/><ellipse cx="-0.3" rx="1.5" ry="3.4" fill="#d8460f"/></g>
<g transform="translate(154.61 557.64) rotate(18)"><ellipse rx="2.4" ry="4.4" fill="#8ad832"/><ellipse cx="-0.3" rx="1.5" ry="3.4" fill="#d8460f"/></g>
<g transform="translate(158.86 556.36) rotate(18)"><ellipse rx="2.4" ry="4.4" fill="#8ad832"/><ellipse cx="-0.3" rx="1.5" ry="3.4" fill="#d8460f"/></g>
<g transform="translate(163.1 555.07) rotate(18)"><ellipse rx="2.4" ry="4.4" fill="#8ad832"/><ellipse cx="-0.3" rx="1.5" ry="3.4" fill="#d8460f"/></g>
<g transform="translate(167.35 553.79) rotate(18)"><ellipse rx="2.4" ry="4.4" fill="#8ad832"/><ellipse cx="-0.3" rx="1.5" ry="3.4" fill="#d8460f"/></g>
<g transform="translate(171.59 552.5) rotate(18)"><ellipse rx="2.4" ry="4.4" fill="#8ad832"/><ellipse cx="-0.3" rx="1.5" ry="3.4" fill="#d8460f"/></g>
<g transform="translate(175.84 551.21) rotate(18)"><ellipse rx="2.4" ry="4.4" fill="#8ad832"/><ellipse cx="-0.3" rx="1.5" ry="3.4" fill="#d8460f"/></g>
<g transform="translate(180.08 549.93) rotate(18)"><ellipse rx="2.4" ry="4.4" fill="#8ad832"/><ellipse cx="-0.3" rx="1.5" ry="3.4" fill="#d8460f"/></g>
<g transform="translate(184.33 548.64) rotate(18)"><ellipse rx="2.4" ry="4.4" fill="#8ad832"/><ellipse cx="-0.3" rx="1.5" ry="3.4" fill="#d8460f"/></g>
<g transform="translate(188.57 547.36) rotate(18)"><ellipse rx="2.4" ry="4.4" fill="#8ad832"/><ellipse cx="-0.3" rx="1.5" ry="3.4" fill="#d8460f"/></g>
<g transform="translate(192.82 546.07) rotate(18)"><ellipse rx="2.4" ry="4.4" fill="#8ad832"/><ellipse cx="-0.3" rx="1.5" ry="3.4" fill="#d8460f"/></g>
<g transform="translate(197.06 544.79) rotate(18)"><ellipse rx="2.4" ry="4.4" fill="#8ad832"/><ellipse cx="-0.3" rx="1.5" ry="3.4" fill="#d8460f"/></g>
<g transform="translate(201.31 543.5) rotate(18)"><ellipse rx="2.4" ry="4.4" fill="#8ad832"/><ellipse cx="-0.3" rx="1.5" ry="3.4" fill="#d8460f"/></g>
<g transform="translate(108.69 582) rotate(18)"><ellipse rx="2.4" ry="4.4" fill="#8ad832"/><ellipse cx="-0.3" rx="1.5" ry="3.4" fill="#d8460f"/></g>
<g transform="translate(112.94 580.71) rotate(18)"><ellipse rx="2.4" ry="4.4" fill="#8ad832"/><ellipse cx="-0.3" rx="1.5" ry="3.4" fill="#d8460f"/></g>
<g transform="translate(117.18 579.43) rotate(18)"><ellipse rx="2.4" ry="4.4" fill="#8ad832"/><ellipse cx="-0.3" rx="1.5" ry="3.4" fill="#d8460f"/></g>
<g transform="translate(121.43 578.14) rotate(18)"><ellipse rx="2.4" ry="4.4" fill="#8ad832"/><ellipse cx="-0.3" rx="1.5" ry="3.4" fill="#d8460f"/></g>
<g transform="translate(125.67 576.86) rotate(18)"><ellipse rx="2.4" ry="4.4" fill="#8ad832"/><ellipse cx="-0.3" rx="1.5" ry="3.4" fill="#d8460f"/></g>
<g transform="translate(129.92 575.57) rotate(18)"><ellipse rx="2.4" ry="4.4" fill="#8ad832"/><ellipse cx="-0.3" rx="1.5" ry="3.4" fill="#d8460f"/></g>
<g transform="translate(134.16 574.29) rotate(18)"><ellipse rx="2.4" ry="4.4" fill="#8ad832"/><ellipse cx="-0.3" rx="1.5" ry="3.4" fill="#d8460f"/></g>
<g transform="translate(138.41 573) rotate(18)"><ellipse rx="2.4" ry="4.4" fill="#8ad832"/><ellipse cx="-0.3" rx="1.5" ry="3.4" fill="#d8460f"/></g>
<g transform="translate(142.65 571.71) rotate(18)"><ellipse rx="2.4" ry="4.4" fill="#8ad832"/><ellipse cx="-0.3" rx="1.5" ry="3.4" fill="#d8460f"/></g>
<g transform="translate(146.9 570.43) rotate(18)"><ellipse rx="2.4" ry="4.4" fill="#8ad832"/><ellipse cx="-0.3" rx="1.5" ry="3.4" fill="#d8460f"/></g>
<g transform="translate(151.14 569.14) rotate(18)"><ellipse rx="2.4" ry="4.4" fill="#8ad832"/><ellipse cx="-0.3" rx="1.5" ry="3.4" fill="#d8460f"/></g>
<g transform="translate(155.39 567.86) rotate(18)"><ellipse rx="2.4" ry="4.4" fill="#8ad832"/><ellipse cx="-0.3" rx="1.5" ry="3.4" fill="#d8460f"/></g>
<g transform="translate(159.63 566.57) rotate(18)"><ellipse rx="2.4" ry="4.4" fill="#8ad832"/><ellipse cx="-0.3" rx="1.5" ry="3.4" fill="#d8460f"/></g>
<g transform="translate(163.88 565.29) rotate(18)"><ellipse rx="2.4" ry="4.4" fill="#8ad832"/><ellipse cx="-0.3" rx="1.5" ry="3.4" fill="#d8460f"/></g>
<g transform="translate(168.12 564) rotate(18)"><ellipse rx="2.4" ry="4.4" fill="#8ad832"/><ellipse cx="-0.3" rx="1.5" ry="3.4" fill="#d8460f"/></g>
<g transform="translate(172.37 562.71) rotate(18)"><ellipse rx="2.4" ry="4.4" fill="#8ad832"/><ellipse cx="-0.3" rx="1.5" ry="3.4" fill="#d8460f"/></g>
<g transform="translate(176.61 561.43) rotate(18)"><ellipse rx="2.4" ry="4.4" fill="#8ad832"/><ellipse cx="-0.3" rx="1.5" ry="3.4" fill="#d8460f"/></g>
<g transform="translate(180.86 560.14) rotate(18)"><ellipse rx="2.4" ry="4.4" fill="#8ad832"/><ellipse cx="-0.3" rx="1.5" ry="3.4" fill="#d8460f"/></g>
<g transform="translate(185.1 558.86) rotate(18)"><ellipse rx="2.4" ry="4.4" fill="#8ad832"/><ellipse cx="-0.3" rx="1.5" ry="3.4" fill="#d8460f"/></g>
<g transform="translate(189.35 557.57) rotate(18)"><ellipse rx="2.4" ry="4.4" fill="#8ad832"/><ellipse cx="-0.3" rx="1.5" ry="3.4" fill="#d8460f"/></g>
<g transform="translate(193.59 556.29) rotate(18)"><ellipse rx="2.4" ry="4.4" fill="#8ad832"/><ellipse cx="-0.3" rx="1.5" ry="3.4" fill="#d8460f"/></g>
<g transform="translate(197.84 555) rotate(18)"><ellipse rx="2.4" ry="4.4" fill="#8ad832"/><ellipse cx="-0.3" rx="1.5" ry="3.4" fill="#d8460f"/></g>
<g transform="translate(202.08 553.71) rotate(18)"><ellipse rx="2.4" ry="4.4" fill="#8ad832"/><ellipse cx="-0.3" rx="1.5" ry="3.4" fill="#d8460f"/></g>
<g transform="translate(206.33 552.43) rotate(18)"><ellipse rx="2.4" ry="4.4" fill="#8ad832"/><ellipse cx="-0.3" rx="1.5" ry="3.4" fill="#d8460f"/></g>
<ellipse cx="147.4" cy="558" rx="2.6" ry="4.2" fill="#6a22c8"/>
<ellipse cx="111.7" cy="569.8" rx="2.6" ry="4.2" fill="#6a22c8"/>
<ellipse cx="155" cy="572" rx="2.6" ry="4.2" fill="#6a22c8"/>
<ellipse cx="193" cy="579.6" rx="2.6" ry="4.2" fill="#6a22c8"/>
<line x1="164.8" y1="548" x2="170.8" y2="538" stroke="#62c02a" stroke-width="1.8" />
<path d="M175.16 524.34 L176.45 530.45 L182.51 531.95 L177.10 535.06 L177.55 541.29 L172.91 537.10 L167.13 539.45 L169.68 533.75 L165.65 528.97 L171.86 529.64 Z" fill="#62c02a"/>
<line x1="100.5" y1="648.2" x2="133" y2="656.5" stroke="#b4ea62" stroke-width="8" opacity="0.4"/>
<g transform="translate(102.67 648.75) rotate(20.33)"><ellipse rx="3.0" ry="5.1" fill="#4a22d8"/><ellipse rx="1.7" ry="3.4" fill="#c8124a"/></g>
<g transform="translate(107 649.86) rotate(20.33)"><ellipse rx="2.1" ry="4.7" fill="#8ed83a"/><ellipse rx="1.2" ry="3.3" fill="#e0520f"/></g>
<g transform="translate(111.33 650.97) rotate(20.33)"><ellipse rx="2.1" ry="4.7" fill="#8ed83a"/><ellipse rx="1.2" ry="3.3" fill="#e0520f"/></g>
<g transform="translate(115.67 652.07) rotate(20.33)"><ellipse rx="3.0" ry="5.1" fill="#4a22d8"/><ellipse rx="1.7" ry="3.4" fill="#c8124a"/></g>
<g transform="translate(120 653.18) rotate(20.33)"><ellipse rx="2.1" ry="4.7" fill="#8ed83a"/><ellipse rx="1.2" ry="3.3" fill="#e0520f"/></g>
<g transform="translate(124.33 654.29) rotate(20.33)"><ellipse rx="2.1" ry="4.7" fill="#8ed83a"/><ellipse rx="1.2" ry="3.3" fill="#e0520f"/></g>
<g transform="translate(128.67 655.39) rotate(20.33)"><ellipse rx="3.0" ry="5.1" fill="#4a22d8"/><ellipse rx="1.7" ry="3.4" fill="#c8124a"/></g>
<line x1="133" y1="656.5" x2="158" y2="682" stroke="#b4ea62" stroke-width="8" opacity="0.4"/>
<g transform="translate(134.47 658) rotate(51.57)"><ellipse rx="2.1" ry="4.7" fill="#8ed83a"/><ellipse rx="1.2" ry="3.3" fill="#e0520f"/></g>
<g transform="translate(137.41 661) rotate(51.57)"><ellipse rx="2.1" ry="4.7" fill="#8ed83a"/><ellipse rx="1.2" ry="3.3" fill="#e0520f"/></g>
<g transform="translate(140.35 664) rotate(51.57)"><ellipse rx="3.0" ry="5.1" fill="#4a22d8"/><ellipse rx="1.7" ry="3.4" fill="#c8124a"/></g>
<g transform="translate(143.29 667) rotate(51.57)"><ellipse rx="2.1" ry="4.7" fill="#8ed83a"/><ellipse rx="1.2" ry="3.3" fill="#e0520f"/></g>
<g transform="translate(146.24 670) rotate(51.57)"><ellipse rx="2.1" ry="4.7" fill="#8ed83a"/><ellipse rx="1.2" ry="3.3" fill="#e0520f"/></g>
<g transform="translate(149.18 673) rotate(51.57)"><ellipse rx="3.0" ry="5.1" fill="#4a22d8"/><ellipse rx="1.7" ry="3.4" fill="#c8124a"/></g>
<g transform="translate(152.12 676) rotate(51.57)"><ellipse rx="2.1" ry="4.7" fill="#8ed83a"/><ellipse rx="1.2" ry="3.3" fill="#e0520f"/></g>
<g transform="translate(155.06 679) rotate(51.57)"><ellipse rx="2.1" ry="4.7" fill="#8ed83a"/><ellipse rx="1.2" ry="3.3" fill="#e0520f"/></g>
<line x1="158" y1="682" x2="165" y2="695" stroke="#b4ea62" stroke-width="8" opacity="0.4"/>
<g transform="translate(159 683.86) rotate(67.7)"><ellipse rx="3.0" ry="5.1" fill="#4a22d8"/><ellipse rx="1.7" ry="3.4" fill="#c8124a"/></g>
<g transform="translate(161 687.57) rotate(67.7)"><ellipse rx="2.1" ry="4.7" fill="#8ed83a"/><ellipse rx="1.2" ry="3.3" fill="#e0520f"/></g>
<g transform="translate(163 691.29) rotate(67.7)"><ellipse rx="2.1" ry="4.7" fill="#8ed83a"/><ellipse rx="1.2" ry="3.3" fill="#e0520f"/></g>
<line x1="99.5" y1="688.5" x2="167" y2="642" stroke="#b4ea62" stroke-width="8" opacity="0.4"/>
<g transform="translate(101.32 687.24) rotate(-28.56)"><ellipse rx="2.1" ry="4.7" fill="#8ed83a"/><ellipse rx="1.2" ry="3.3" fill="#e0520f"/></g>
<g transform="translate(104.97 684.73) rotate(-28.56)"><ellipse rx="3.0" ry="5.1" fill="#4a22d8"/><ellipse rx="1.7" ry="3.4" fill="#c8124a"/></g>
<g transform="translate(108.62 682.22) rotate(-28.56)"><ellipse rx="2.1" ry="4.7" fill="#8ed83a"/><ellipse rx="1.2" ry="3.3" fill="#e0520f"/></g>
<g transform="translate(112.27 679.7) rotate(-28.56)"><ellipse rx="2.1" ry="4.7" fill="#8ed83a"/><ellipse rx="1.2" ry="3.3" fill="#e0520f"/></g>
<g transform="translate(115.92 677.19) rotate(-28.56)"><ellipse rx="3.0" ry="5.1" fill="#4a22d8"/><ellipse rx="1.7" ry="3.4" fill="#c8124a"/></g>
<g transform="translate(119.57 674.68) rotate(-28.56)"><ellipse rx="2.1" ry="4.7" fill="#8ed83a"/><ellipse rx="1.2" ry="3.3" fill="#e0520f"/></g>
<g transform="translate(123.22 672.16) rotate(-28.56)"><ellipse rx="2.1" ry="4.7" fill="#8ed83a"/><ellipse rx="1.2" ry="3.3" fill="#e0520f"/></g>
<g transform="translate(126.86 669.65) rotate(-28.56)"><ellipse rx="3.0" ry="5.1" fill="#4a22d8"/><ellipse rx="1.7" ry="3.4" fill="#c8124a"/></g>
<g transform="translate(130.51 667.14) rotate(-28.56)"><ellipse rx="2.1" ry="4.7" fill="#8ed83a"/><ellipse rx="1.2" ry="3.3" fill="#e0520f"/></g>
<g transform="translate(134.16 664.62) rotate(-28.56)"><ellipse rx="2.1" ry="4.7" fill="#8ed83a"/><ellipse rx="1.2" ry="3.3" fill="#e0520f"/></g>
<g transform="translate(137.81 662.11) rotate(-28.56)"><ellipse rx="3.0" ry="5.1" fill="#4a22d8"/><ellipse rx="1.7" ry="3.4" fill="#c8124a"/></g>
<g transform="translate(141.46 659.59) rotate(-28.56)"><ellipse rx="2.1" ry="4.7" fill="#8ed83a"/><ellipse rx="1.2" ry="3.3" fill="#e0520f"/></g>
<g transform="translate(145.11 657.08) rotate(-28.56)"><ellipse rx="2.1" ry="4.7" fill="#8ed83a"/><ellipse rx="1.2" ry="3.3" fill="#e0520f"/></g>
<g transform="translate(148.76 654.57) rotate(-28.56)"><ellipse rx="3.0" ry="5.1" fill="#4a22d8"/><ellipse rx="1.7" ry="3.4" fill="#c8124a"/></g>
<g transform="translate(152.41 652.05) rotate(-28.56)"><ellipse rx="2.1" ry="4.7" fill="#8ed83a"/><ellipse rx="1.2" ry="3.3" fill="#e0520f"/></g>
<g transform="translate(156.05 649.54) rotate(-28.56)"><ellipse rx="2.1" ry="4.7" fill="#8ed83a"/><ellipse rx="1.2" ry="3.3" fill="#e0520f"/></g>
<g transform="translate(159.7 647.03) rotate(-28.56)"><ellipse rx="3.0" ry="5.1" fill="#4a22d8"/><ellipse rx="1.7" ry="3.4" fill="#c8124a"/></g>
<g transform="translate(163.35 644.51) rotate(-28.56)"><ellipse rx="2.1" ry="4.7" fill="#8ed83a"/><ellipse rx="1.2" ry="3.3" fill="#e0520f"/></g>
<line x1="146" y1="644.5" x2="156" y2="656" stroke="#b4ea62" stroke-width="8" opacity="0.4"/>
<g transform="translate(147.43 646.14) rotate(54.99)"><ellipse rx="3.0" ry="5.1" fill="#4a22d8"/><ellipse rx="1.7" ry="3.4" fill="#c8124a"/></g>
<g transform="translate(150.29 649.43) rotate(54.99)"><ellipse rx="2.1" ry="4.7" fill="#8ed83a"/><ellipse rx="1.2" ry="3.3" fill="#e0520f"/></g>
<g transform="translate(153.14 652.71) rotate(54.99)"><ellipse rx="2.1" ry="4.7" fill="#8ed83a"/><ellipse rx="1.2" ry="3.3" fill="#e0520f"/></g>
<line x1="159" y1="637.5" x2="217" y2="688.5" stroke="#b4ea62" stroke-width="8" opacity="0.4"/>
<g transform="translate(160.66 638.96) rotate(47.33)"><ellipse rx="2.1" ry="4.7" fill="#8ed83a"/><ellipse rx="1.2" ry="3.3" fill="#e0520f"/></g>
<g transform="translate(163.97 641.87) rotate(47.33)"><ellipse rx="2.1" ry="4.7" fill="#8ed83a"/><ellipse rx="1.2" ry="3.3" fill="#e0520f"/></g>
<g transform="translate(167.29 644.79) rotate(47.33)"><ellipse rx="3.0" ry="5.1" fill="#4a22d8"/><ellipse rx="1.7" ry="3.4" fill="#c8124a"/></g>
<g transform="translate(170.6 647.7) rotate(47.33)"><ellipse rx="2.1" ry="4.7" fill="#8ed83a"/><ellipse rx="1.2" ry="3.3" fill="#e0520f"/></g>
<g transform="translate(173.91 650.61) rotate(47.33)"><ellipse rx="2.1" ry="4.7" fill="#8ed83a"/><ellipse rx="1.2" ry="3.3" fill="#e0520f"/></g>
<g transform="translate(177.23 653.53) rotate(47.33)"><ellipse rx="3.0" ry="5.1" fill="#4a22d8"/><ellipse rx="1.7" ry="3.4" fill="#c8124a"/></g>
<g transform="translate(180.54 656.44) rotate(47.33)"><ellipse rx="2.1" ry="4.7" fill="#8ed83a"/><ellipse rx="1.2" ry="3.3" fill="#e0520f"/></g>
<g transform="translate(183.86 659.36) rotate(47.33)"><ellipse rx="2.1" ry="4.7" fill="#8ed83a"/><ellipse rx="1.2" ry="3.3" fill="#e0520f"/></g>
<g transform="translate(187.17 662.27) rotate(47.33)"><ellipse rx="3.0" ry="5.1" fill="#4a22d8"/><ellipse rx="1.7" ry="3.4" fill="#c8124a"/></g>
<g transform="translate(190.49 665.19) rotate(47.33)"><ellipse rx="2.1" ry="4.7" fill="#8ed83a"/><ellipse rx="1.2" ry="3.3" fill="#e0520f"/></g>
<g transform="translate(193.8 668.1) rotate(47.33)"><ellipse rx="2.1" ry="4.7" fill="#8ed83a"/><ellipse rx="1.2" ry="3.3" fill="#e0520f"/></g>
<g transform="translate(197.11 671.01) rotate(47.33)"><ellipse rx="3.0" ry="5.1" fill="#4a22d8"/><ellipse rx="1.7" ry="3.4" fill="#c8124a"/></g>
<g transform="translate(200.43 673.93) rotate(47.33)"><ellipse rx="2.1" ry="4.7" fill="#8ed83a"/><ellipse rx="1.2" ry="3.3" fill="#e0520f"/></g>
<g transform="translate(203.74 676.84) rotate(47.33)"><ellipse rx="2.1" ry="4.7" fill="#8ed83a"/><ellipse rx="1.2" ry="3.3" fill="#e0520f"/></g>
<g transform="translate(207.06 679.76) rotate(47.33)"><ellipse rx="3.0" ry="5.1" fill="#4a22d8"/><ellipse rx="1.7" ry="3.4" fill="#c8124a"/></g>
<g transform="translate(210.37 682.67) rotate(47.33)"><ellipse rx="2.1" ry="4.7" fill="#8ed83a"/><ellipse rx="1.2" ry="3.3" fill="#e0520f"/></g>
<g transform="translate(213.69 685.59) rotate(47.33)"><ellipse rx="2.1" ry="4.7" fill="#8ed83a"/><ellipse rx="1.2" ry="3.3" fill="#e0520f"/></g>
<line x1="154" y1="687" x2="221" y2="647" stroke="#b4ea62" stroke-width="8" opacity="0.4"/>
<g transform="translate(155.91 685.86) rotate(-24.84)"><ellipse rx="2.1" ry="4.7" fill="#8ed83a"/><ellipse rx="1.2" ry="3.3" fill="#e0520f"/></g>
<g transform="translate(159.74 683.57) rotate(-24.84)"><ellipse rx="3.0" ry="5.1" fill="#4a22d8"/><ellipse rx="1.7" ry="3.4" fill="#c8124a"/></g>
<g transform="translate(163.57 681.29) rotate(-24.84)"><ellipse rx="2.1" ry="4.7" fill="#8ed83a"/><ellipse rx="1.2" ry="3.3" fill="#e0520f"/></g>
<g transform="translate(167.4 679) rotate(-24.84)"><ellipse rx="2.1" ry="4.7" fill="#8ed83a"/><ellipse rx="1.2" ry="3.3" fill="#e0520f"/></g>
<g transform="translate(171.23 676.71) rotate(-24.84)"><ellipse rx="3.0" ry="5.1" fill="#4a22d8"/><ellipse rx="1.7" ry="3.4" fill="#c8124a"/></g>
<g transform="translate(175.06 674.43) rotate(-24.84)"><ellipse rx="2.1" ry="4.7" fill="#8ed83a"/><ellipse rx="1.2" ry="3.3" fill="#e0520f"/></g>
<g transform="translate(178.89 672.14) rotate(-24.84)"><ellipse rx="2.1" ry="4.7" fill="#8ed83a"/><ellipse rx="1.2" ry="3.3" fill="#e0520f"/></g>
<g transform="translate(182.71 669.86) rotate(-24.84)"><ellipse rx="3.0" ry="5.1" fill="#4a22d8"/><ellipse rx="1.7" ry="3.4" fill="#c8124a"/></g>
<g transform="translate(186.54 667.57) rotate(-24.84)"><ellipse rx="2.1" ry="4.7" fill="#8ed83a"/><ellipse rx="1.2" ry="3.3" fill="#e0520f"/></g>
<g transform="translate(190.37 665.29) rotate(-24.84)"><ellipse rx="2.1" ry="4.7" fill="#8ed83a"/><ellipse rx="1.2" ry="3.3" fill="#e0520f"/></g>
<g transform="translate(194.2 663) rotate(-24.84)"><ellipse rx="3.0" ry="5.1" fill="#4a22d8"/><ellipse rx="1.7" ry="3.4" fill="#c8124a"/></g>
<g transform="translate(198.03 660.71) rotate(-24.84)"><ellipse rx="2.1" ry="4.7" fill="#8ed83a"/><ellipse rx="1.2" ry="3.3" fill="#e0520f"/></g>
<g transform="translate(201.86 658.43) rotate(-24.84)"><ellipse rx="2.1" ry="4.7" fill="#8ed83a"/><ellipse rx="1.2" ry="3.3" fill="#e0520f"/></g>
<g transform="translate(205.69 656.14) rotate(-24.84)"><ellipse rx="3.0" ry="5.1" fill="#4a22d8"/><ellipse rx="1.7" ry="3.4" fill="#c8124a"/></g>
<g transform="translate(209.51 653.86) rotate(-24.84)"><ellipse rx="2.1" ry="4.7" fill="#8ed83a"/><ellipse rx="1.2" ry="3.3" fill="#e0520f"/></g>
<g transform="translate(213.34 651.57) rotate(-24.84)"><ellipse rx="2.1" ry="4.7" fill="#8ed83a"/><ellipse rx="1.2" ry="3.3" fill="#e0520f"/></g>
<g transform="translate(217.17 649.29) rotate(-24.84)"><ellipse rx="3.0" ry="5.1" fill="#4a22d8"/><ellipse rx="1.7" ry="3.4" fill="#c8124a"/></g>
<line x1="128.5" y1="649.5" x2="135.6" y2="637.6" stroke="#62c02a" stroke-width="1.8" />
<path d="M139.80 623.54 L141.11 629.79 L147.31 631.32 L141.77 634.50 L142.23 640.87 L137.50 636.59 L131.58 638.99 L134.19 633.16 L130.08 628.28 L136.43 628.96 Z" fill="#62c02a"/>
<line x1="200.8" y1="635.5" x2="206.7" y2="651.5" stroke="#2020d8" stroke-width="2.2" stroke-dasharray="2 1.6"/>
<path d="M196.40 618.20 L198.78 624.13 L205.15 624.56 L200.25 628.65 L201.81 634.84 L196.40 631.45 L190.99 634.84 L192.55 628.65 L187.65 624.56 L194.02 624.13 Z" fill="#1010e8"/>
<path d="M287.50 605.80 L290.66 613.66 L299.10 614.23 L292.61 619.66 L294.67 627.87 L287.50 623.37 L280.33 627.87 L282.39 619.66 L275.90 614.23 L284.34 613.66 Z" fill="#1010e8"/>
<rect x="305.8" y="614.2" width="8.2" height="1.9" fill="#333"/><rect x="305.8" y="617.00" width="8.2" height="1.9" fill="#333"/>
<path d="M468.30 605.80 L471.46 613.66 L479.90 614.23 L473.41 619.66 L475.47 627.87 L468.30 623.37 L461.13 627.87 L463.19 619.66 L456.70 614.23 L465.14 613.66 Z" fill="#62c02a"/>
<rect x="485.8" y="614.4" width="8.2" height="1.9" fill="#333"/><rect x="485.8" y="617.20" width="8.2" height="1.9" fill="#333"/>
<text x="276.8" y="719.6" font-size="16.5" font-weight="bold" textLength="116.2" lengthAdjust="spacingAndGlyphs" fill="#111" >Hoechst 33342</text>
<text x="500.8" y="719.6" font-size="16.5" font-weight="bold" textLength="36.8" lengthAdjust="spacingAndGlyphs" fill="#111" >A-FL</text>
<path d="M298.3 531 L304.3 541.7 L312.6 537.6" fill="none" stroke="#3a3a3a" stroke-width="1.2" stroke-linejoin="round"/>
<ellipse cx="316" cy="536.5" rx="2.8" ry="3.1" fill="none" stroke="#333" stroke-width="1.05"/>
<line x1="319" y1="538.8" x2="325" y2="543.7" stroke="#3a3a3a" stroke-width="1.2" />
<path d="M325 543.7 L337.7 537.7 L346.3 547 L345 557 L333 563.7 L323.7 554.3 Z" fill="none" stroke="#3a3a3a" stroke-width="1.2" stroke-linejoin="round"/>
<line x1="327.75" y1="544.83" x2="336.83" y2="540.54" stroke="#3a3a3a" stroke-width="1.2" />
<line x1="343.86" y1="548.7" x2="343.08" y2="554.73" stroke="#3a3a3a" stroke-width="1.2" />
<line x1="333.16" y1="560.73" x2="326.67" y2="554.17" stroke="#3a3a3a" stroke-width="1.2" />
<line x1="345" y1="557" x2="352.3" y2="565" stroke="#3a3a3a" stroke-width="1.2" />
<line x1="352.3" y1="565" x2="361.6" y2="563.8" stroke="#3a3a3a" stroke-width="1.2" />
<text x="368" y="566.6" font-size="9.5" text-anchor="middle" fill="#2a2a2a" >NH</text>
<line x1="352.3" y1="565" x2="351" y2="577.7" stroke="#3a3a3a" stroke-width="1.2" />
<line x1="354.29" y1="565.2" x2="352.99" y2="577.9" stroke="#3a3a3a" stroke-width="1.2" />
<text x="347.6" y="587.6" font-size="9.5" fill="#2a2a2a" transform="rotate(-20 347.6 587.6)" text-anchor="middle">NH</text>
<text x="336.4" y="592.2" font-size="7" fill="#2a2a2a" text-anchor="middle">+</text>
<line x1="353.7" y1="584.3" x2="361.7" y2="585.7" stroke="#3a3a3a" stroke-width="1.2" />
<line x1="369.7" y1="567.2" x2="371.5" y2="577.6" stroke="#3a3a3a" stroke-width="1.2" />
<path d="M371.7 577.5 L383.3 580 L385.8 592.5 L376.7 600.8 L365 597.5 L361.7 585.8 Z" fill="none" stroke="#3a3a3a" stroke-width="1.2" stroke-linejoin="round"/>
<line x1="373.19" y1="580.07" x2="380.88" y2="581.73" stroke="#3a3a3a" stroke-width="1.2" />
<line x1="382.84" y1="592.22" x2="376.7" y2="597.83" stroke="#3a3a3a" stroke-width="1.2" />
<line x1="366.57" y1="594.98" x2="364.36" y2="587.13" stroke="#3a3a3a" stroke-width="1.2" />
<line x1="376.7" y1="600.8" x2="376.7" y2="610" stroke="#3a3a3a" stroke-width="1.2" />
<line x1="376.7" y1="610" x2="369" y2="614.6" stroke="#3a3a3a" stroke-width="1.2" />
<line x1="377.62" y1="611.55" x2="369.92" y2="616.15" stroke="#3a3a3a" stroke-width="1.2" />
<line x1="376.7" y1="610" x2="385" y2="614.6" stroke="#3a3a3a" stroke-width="1.2" />
<text x="391.8" y="621" font-size="9.5" text-anchor="middle" fill="#2a2a2a" >NH</text>
<text x="365.6" y="621.2" font-size="9.5" text-anchor="middle" fill="#2a2a2a" >NH</text>
<text x="360.8" y="610.6" font-size="7" fill="#2a2a2a" text-anchor="middle">+</text>
<line x1="367.6" y1="621.8" x2="370.8" y2="630.2" stroke="#3a3a3a" stroke-width="1.2" />
<line x1="387.2" y1="621.8" x2="384.2" y2="629.4" stroke="#3a3a3a" stroke-width="1.2" />
<path d="M370.8 630.2 L384.2 629.4 L390 641.7 L384.2 651.7 L371.7 652.5 L365.8 641.7 Z" fill="none" stroke="#3a3a3a" stroke-width="1.2" stroke-linejoin="round"/>
<line x1="372.93" y1="632.28" x2="382.33" y2="631.72" stroke="#3a3a3a" stroke-width="1.2" />
<line x1="387.09" y1="642.33" x2="383.3" y2="648.87" stroke="#3a3a3a" stroke-width="1.2" />
<line x1="372.67" y1="649.69" x2="368.69" y2="642.4" stroke="#3a3a3a" stroke-width="1.2" />
<line x1="371.7" y1="652.5" x2="366.6" y2="661" stroke="#3a3a3a" stroke-width="1.2" />
<text x="365.6" y="668" font-size="9.5" text-anchor="middle" fill="#2a2a2a" >N</text>
<path d="M362.2 664.4 L351.7 663.3 L344.2 675 L349 683" fill="none" stroke="#3a3a3a" stroke-width="1.2" stroke-linejoin="round"/>
<path d="M368 668 L370 675 L363.3 686.7 L360 686.7" fill="none" stroke="#3a3a3a" stroke-width="1.2" stroke-linejoin="round"/>
<text x="353.6" y="690.6" font-size="9.5" text-anchor="middle" fill="#2a2a2a" >NH</text>
<text x="340.2" y="688.0" font-size="7" fill="#2a2a2a" text-anchor="middle">+</text>
<line x1="347.2" y1="690.8" x2="343.3" y2="697.5" stroke="#3a3a3a" stroke-width="1.2" />
<text x="327.3" y="625" font-size="9.5" fill="#2a2a2a" >3Cl</text>
<line x1="343.6" y1="618.6" x2="346.8" y2="618.6" stroke="#555" stroke-width="0.8" />
<ellipse cx="533.4" cy="532" rx="2.9" ry="3.2" fill="none" stroke="#333" stroke-width="1.05"/>
<line x1="529.94" y1="532.77" x2="522.14" y2="536.17" stroke="#3a3a3a" stroke-width="1.2" />
<line x1="530.66" y1="534.43" x2="522.86" y2="537.83" stroke="#3a3a3a" stroke-width="1.2" />
<line x1="522.5" y1="537" x2="522.5" y2="550" stroke="#3a3a3a" stroke-width="1.2" />
<path d="M522.5 550 L533.3 556.7 L533.3 568.3 L522.5 575 L511.7 568.3 L511.7 556.7 Z" fill="none" stroke="#3a3a3a" stroke-width="1.2" stroke-linejoin="round"/>
<line x1="523.04" y1="552.92" x2="530.44" y2="557.52" stroke="#3a3a3a" stroke-width="1.2" />
<line x1="530.44" y1="567.48" x2="523.04" y2="572.08" stroke="#3a3a3a" stroke-width="1.2" />
<line x1="513.9" y1="566.3" x2="513.9" y2="558.7" stroke="#3a3a3a" stroke-width="1.2" />
<line x1="522.5" y1="575" x2="522.5" y2="584.8" stroke="#3a3a3a" stroke-width="1.2" />
<ellipse cx="522.5" cy="588.4" rx="2.9" ry="3.2" fill="none" stroke="#333" stroke-width="1.05"/>
<line x1="520.8" y1="591.7" x2="516.7" y2="596.7" stroke="#3a3a3a" stroke-width="1.2" />
<line x1="516.54" y1="595.81" x2="509.44" y2="597.11" stroke="#3a3a3a" stroke-width="1.2" />
<line x1="516.86" y1="597.59" x2="509.76" y2="598.89" stroke="#3a3a3a" stroke-width="1.2" />
<text x="506.2" y="601.98" font-size="10" text-anchor="middle" fill="#2a2a2a" >S</text>
<line x1="516.7" y1="596.7" x2="522.4" y2="603.8" stroke="#3a3a3a" stroke-width="1.2" />
<text x="526.4" y="611.58" font-size="10" text-anchor="middle" fill="#2a2a2a" >NH</text>
<line x1="524" y1="612.6" x2="524" y2="619" stroke="#3a3a3a" stroke-width="1.2" />
<path d="M524 619 L535 625 L535 638 L524 644 L513 638 L513 625 Z" fill="none" stroke="#3a3a3a" stroke-width="1.2" stroke-linejoin="round"/>
<line x1="524.7" y1="621.89" x2="532.19" y2="625.97" stroke="#3a3a3a" stroke-width="1.2" />
<line x1="532.19" y1="637.03" x2="524.7" y2="641.11" stroke="#3a3a3a" stroke-width="1.2" />
<line x1="515.2" y1="636" x2="515.2" y2="627" stroke="#3a3a3a" stroke-width="1.2" />
<line x1="535" y1="638" x2="547" y2="642" stroke="#3a3a3a" stroke-width="1.2" />
<line x1="546.71" y1="641.15" x2="553.71" y2="638.75" stroke="#3a3a3a" stroke-width="1.2" />
<line x1="547.29" y1="642.85" x2="554.29" y2="640.45" stroke="#3a3a3a" stroke-width="1.2" />
<ellipse cx="557.4" cy="639" rx="2.9" ry="3.2" fill="none" stroke="#333" stroke-width="1.05"/>
<line x1="547" y1="642" x2="543" y2="653.6" stroke="#3a3a3a" stroke-width="1.2" />
<ellipse cx="539.6" cy="657.2" rx="2.9" ry="3.2" fill="none" stroke="#333" stroke-width="1.05"/>
<line x1="536.4" y1="658" x2="524" y2="659" stroke="#3a3a3a" stroke-width="1.2" />
<line x1="524" y1="644" x2="524" y2="659" stroke="#3a3a3a" stroke-width="1.2" />
<line x1="524" y1="659" x2="514" y2="665" stroke="#3a3a3a" stroke-width="1.2" />
<line x1="524" y1="659" x2="535" y2="665" stroke="#3a3a3a" stroke-width="1.2" />
<path d="M514 665 L502 661 L491 667 L491 680 L502 686 L513 680 Z" fill="none" stroke="#3a3a3a" stroke-width="1.2" stroke-linejoin="round"/>
<line x1="501.3" y1="663.89" x2="493.81" y2="667.97" stroke="#3a3a3a" stroke-width="1.2" />
<line x1="493.81" y1="679.03" x2="501.3" y2="683.11" stroke="#3a3a3a" stroke-width="1.2" />
<line x1="510.94" y1="677.86" x2="511.67" y2="666.85" stroke="#3a3a3a" stroke-width="1.2" />
<path d="M535 665 L546 661 L557 667 L557 680 L547 686 L535 680 Z" fill="none" stroke="#3a3a3a" stroke-width="1.2" stroke-linejoin="round"/>
<line x1="537.63" y1="666.38" x2="544.87" y2="663.75" stroke="#3a3a3a" stroke-width="1.2" />
<line x1="554.8" y1="669" x2="554.8" y2="678" stroke="#3a3a3a" stroke-width="1.2" />
<line x1="546.2" y1="683.14" x2="537.77" y2="678.93" stroke="#3a3a3a" stroke-width="1.2" />
<line x1="513" y1="680" x2="521.6" y2="684.4" stroke="#3a3a3a" stroke-width="1.2" />
<line x1="535" y1="680" x2="527.6" y2="684.4" stroke="#3a3a3a" stroke-width="1.2" />
<ellipse cx="524.6" cy="686.2" rx="2.9" ry="3.2" fill="none" stroke="#333" stroke-width="1.05"/>
<line x1="491" y1="680" x2="483.6" y2="684.6" stroke="#3a3a3a" stroke-width="1.2" />
<text x="476.6" y="689.58" font-size="10" text-anchor="middle" fill="#2a2a2a" >HO</text>
<line x1="557" y1="680" x2="565" y2="684.6" stroke="#3a3a3a" stroke-width="1.2" />
<text x="572" y="689.58" font-size="10" text-anchor="middle" fill="#2a2a2a" >OH</text>
</svg></body></html>
